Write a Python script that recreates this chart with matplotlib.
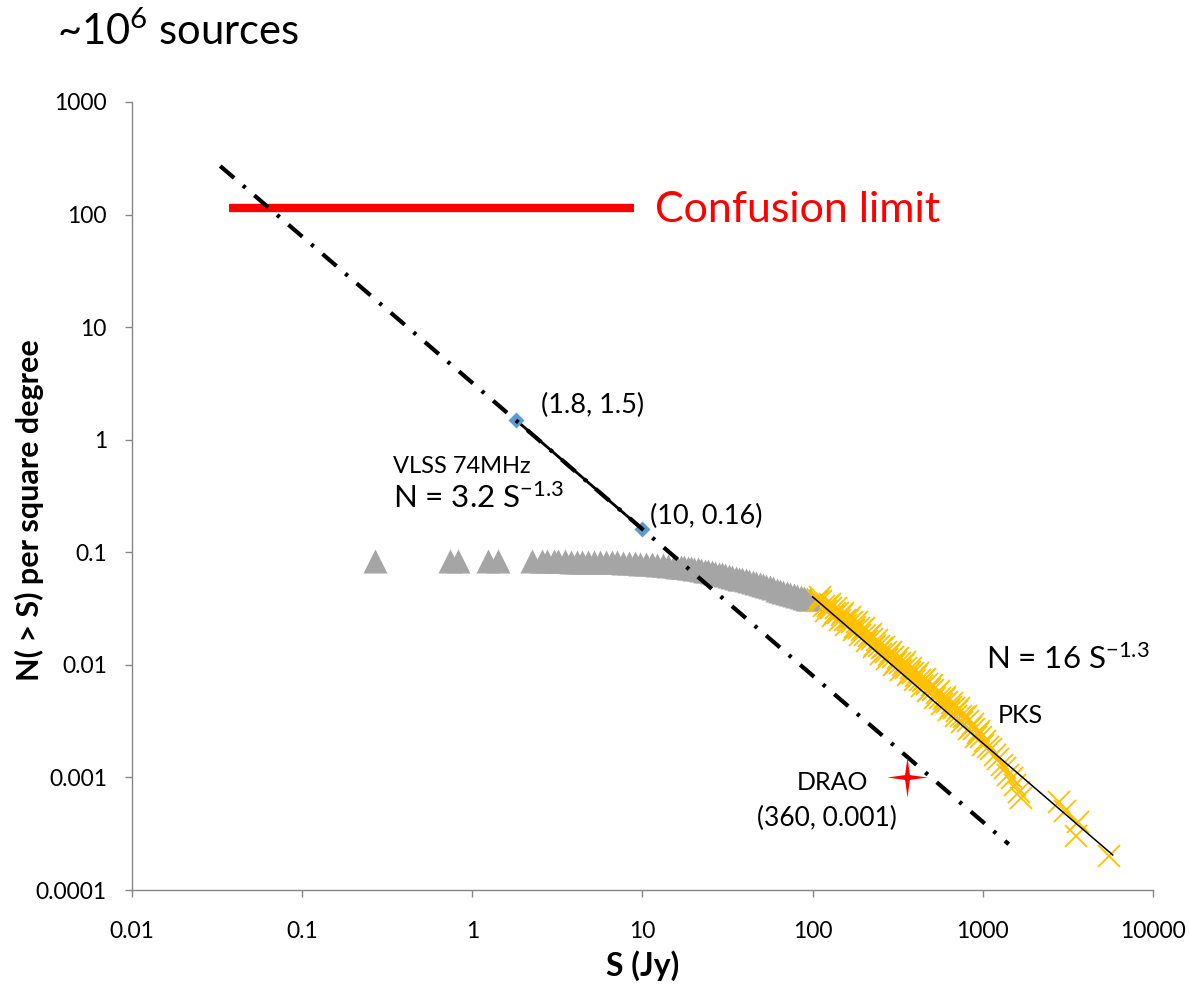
import matplotlib
matplotlib.use("Agg")
import matplotlib.pyplot as plt
from matplotlib.path import Path
from matplotlib.ticker import FixedLocator, FixedFormatter
import numpy as np

plt.rcParams['font.family'] = ['Lato', 'DejaVu Sans']
plt.rcParams['mathtext.fontset'] = 'custom'
plt.rcParams['mathtext.rm'] = 'Lato'
plt.rcParams['mathtext.it'] = 'Lato:italic'
plt.rcParams['mathtext.bf'] = 'Lato:bold'

# ---- data ----
x_ticks = [0.01, 0.1, 1, 10, 100, 1000, 10000]
x_tick_labels = ['0.01', '0.1', '1', '10', '100', '1000', '10000']
y_ticks = [0.0001, 0.001, 0.01, 0.1, 1, 10, 100, 1000]
y_tick_labels = ['0.0001', '0.001', '0.01', '0.1', '1', '10', '100', '1000']

# cumulative counts, low-frequency catalogue (grey triangles)
grey_s = [0.268, 0.743, 0.828, 1.24, 1.42, 2.25, 2.58, 2.76,
          3.0, 3.2, 3.5, 3.8, 4.1, 4.4, 4.8, 5.2, 5.6, 6.1, 6.6, 7.1, 7.7,
          8.3, 9.0, 9.7, 10.5, 11.3, 12.2, 13.2, 14.2, 15.3, 16.0, 16.8,
          17.6, 18.4, 19.3, 20.2, 21.2, 22.2, 23.3, 24.4, 25.5, 26.7, 28.0,
          29.3, 30.7, 32.2, 33.7, 35.3, 37.0, 38.7, 40.6, 42.5, 44.5, 46.6,
          48.8, 51.1, 53.5, 56.0, 58.7, 61.5, 64.4, 67.4, 70.6, 74.0, 77.5,
          81.1, 85.0, 89.0, 93.0, 97.0]
grey_n = [0.0835, 0.0835, 0.0835, 0.0835, 0.0835, 0.0833, 0.0833, 0.0833,
          0.0832, 0.0831, 0.0830, 0.0828, 0.0828, 0.0826, 0.0824, 0.0824,
          0.0822, 0.0818, 0.0817, 0.0813, 0.0811, 0.0807, 0.0800, 0.0794,
          0.0787, 0.0780, 0.0772, 0.0764, 0.0757, 0.0750, 0.0745, 0.0739,
          0.0733, 0.0727, 0.0720, 0.0713, 0.0704, 0.0695, 0.0685, 0.0676,
          0.0666, 0.0656, 0.0646, 0.0636, 0.0626, 0.0615, 0.0605, 0.0594,
          0.0584, 0.0574, 0.0563, 0.0553, 0.0542, 0.0532, 0.0521, 0.0511,
          0.0500, 0.0489, 0.0478, 0.0467, 0.0456, 0.0446, 0.0436, 0.0426,
          0.0417, 0.0408, 0.0400, 0.0393, 0.0387, 0.0381]

# cumulative counts, PKS catalogue (yellow crosses)
pks_s = [107, 110, 112, 117, 120, 123, 126, 129, 132, 135, 138, 141, 145,
         148, 151, 155, 158, 162, 166, 170, 174, 178, 182, 186, 190, 195,
         200, 204, 209, 214, 219, 224, 229, 234, 240, 245, 251, 257, 263,
         269, 275, 282, 288, 295, 302, 309, 316, 324, 331, 339, 347, 355,
         363, 372, 380, 389, 398, 407, 417, 427, 437, 447, 457, 468, 479,
         490, 501, 513, 525, 537, 550, 562, 575, 589, 603, 617, 631, 646,
         661, 676, 692, 708, 724, 741, 758, 776, 794, 813, 832, 851, 871,
         891, 912, 933, 955, 977, 1000, 1023, 1072, 1122, 1175, 1230, 1288,
         1349, 1413, 1479, 1549, 1622, 1675,
         2800, 3050, 3620, 3520, 5500]
pks_n = [0.0373, 0.0400, 0.0368, 0.0334, 0.0299, 0.0330, 0.0349, 0.0318,
         0.0272, 0.0289, 0.0318, 0.0290, 0.0248, 0.0275, 0.0289, 0.0250,
         0.0226, 0.0252, 0.0264, 0.0240, 0.0205, 0.0216, 0.0239, 0.0214,
         0.0185, 0.0203, 0.0212, 0.0183, 0.0163, 0.0180, 0.0187, 0.0170,
         0.0144, 0.0151, 0.0165, 0.0148, 0.0126, 0.0140, 0.0145, 0.0131,
         0.0112, 0.0123, 0.0129, 0.0117, 0.0099, 0.0106, 0.0116, 0.0104,
         0.0090, 0.00990, 0.0105, 0.00935, 0.0081, 0.00860, 0.0094,
         0.00845, 0.0073, 0.00800, 0.0085, 0.00730, 0.0065, 0.00715,
         0.0075, 0.00670, 0.0058, 0.00615, 0.0066, 0.00595, 0.0051,
         0.00560, 0.0058, 0.00510, 0.0045, 0.00495, 0.0052, 0.00465,
         0.0040, 0.00425, 0.0046, 0.00412, 0.0035, 0.00390, 0.0041,
         0.00355, 0.0031, 0.00345, 0.0035, 0.00315, 0.0027, 0.00280,
         0.0030, 0.00272, 0.00228, 0.00250, 0.00256, 0.00228, 0.00193,
         0.00210, 0.00186, 0.00178, 0.00158, 0.00147, 0.00128, 0.00121,
         0.00105, 0.00098, 0.00086, 0.00074, 0.00066,
         0.00060, 0.00050, 0.00040, 0.00030, 0.00020]

# VLSS 74 MHz reference points
vlss_s = [1.8, 10]
vlss_n = [1.5, 0.16]

# power-law fits N = A * S**slope
vlss_fit_a, vlss_fit_slope = 3.2, -1.3
vlss_fit_range = [0.033, 1420]
pks_fit_a, pks_fit_slope = 16, -1.3
pks_fit_range = [100, 5800]

# confusion limit
confusion_s = [0.037, 8.9]
confusion_n = [115, 115]

# DRAO point
drao_s, drao_n = 360, 0.001

# ---- figure ----
fig = plt.figure(figsize=(11.9, 9.92), dpi=100)
ax = fig.add_axes([0.1109, 0.1028, 0.8580, 0.7944])
ax.set_xscale('log')
ax.set_yscale('log')
ax.set_xlim(0.01, 10000)
ax.set_ylim(0.0001, 1000)

axis_grey = '#868686'
for side in ('top', 'right'):
    ax.spines[side].set_visible(False)
for side in ('left', 'bottom'):
    ax.spines[side].set_color(axis_grey)
    ax.spines[side].set_linewidth(1.0)

ax.xaxis.set_major_locator(FixedLocator(x_ticks))
ax.xaxis.set_major_formatter(FixedFormatter(x_tick_labels))
ax.yaxis.set_major_locator(FixedLocator(y_ticks))
ax.yaxis.set_major_formatter(FixedFormatter(y_tick_labels))
ax.xaxis.set_minor_locator(FixedLocator([]))
ax.yaxis.set_minor_locator(FixedLocator([]))
ax.tick_params(axis='both', which='major', direction='out', length=5,
               width=1.0, color=axis_grey, labelsize=16.5, labelcolor='black')
ax.tick_params(axis='y', pad=13)
ax.tick_params(axis='x', pad=17)

# catalogue points
ax.plot(grey_s, grey_n, linestyle='none', marker='^', ms=17,
        color='#A5A5A5', mec='none', zorder=2)
ax.plot(pks_s, pks_n, linestyle='none', marker='x', ms=16, mew=1.3,
        color='#FFC000', zorder=3)

# fits
fs = np.array(vlss_fit_range)
ax.plot(fs, vlss_fit_a * fs ** vlss_fit_slope, color='black', lw=3.0,
        linestyle=(0, (4.4, 2.8, 0.8, 2.8)), dash_capstyle='butt', zorder=6)
ps = np.array(pks_fit_range)
ax.plot(ps, pks_fit_a * ps ** pks_fit_slope, color='black', lw=1.1, zorder=6)

ax.plot(vlss_s, vlss_n, color='black', lw=2.0, zorder=4)
ax.plot(vlss_s, vlss_n, linestyle='none', marker='D', ms=8,
        color='#5B9BD5', mec='none', zorder=5)

# confusion limit
ax.plot(confusion_s, confusion_n, color='#FF0000', lw=6, solid_capstyle='butt',
        zorder=5)

# DRAO four-point star
r_in = 0.17
star_verts = []
for k in range(8):
    ang = np.pi / 2 + k * np.pi / 4
    r = 1.0 if k % 2 == 0 else r_in
    star_verts.append((r * np.cos(ang), r * np.sin(ang)))
star_verts.append(star_verts[0])
star = Path(star_verts, closed=True)
ax.plot([drao_s], [drao_n], linestyle='none', marker=star, ms=29,
        color='#FF0000', mec='none', zorder=7)

# annotations
ax.text(11.9, 110, 'Confusion limit', color='#FF0000', fontsize=31,
        va='center', ha='left')
ax.text(2.55, 2.03, '(1.8, 1.5)', fontsize=19.5, va='center', ha='left')
ax.text(11.1, 0.209, '(10, 0.16)', fontsize=19.5, va='center', ha='left')
ax.text(0.343, 0.58, 'VLSS 74MHz', fontsize=17, va='center', ha='left')
ax.text(0.343, 0.308, r'N = 3.2 S$^{-1.3}$', fontsize=22.5, va='center', ha='left')
ax.text(1042, 0.0114, r'N = 16 S$^{-1.3}$', fontsize=22.5, va='center', ha='left')
ax.text(1225, 0.00356, 'PKS', fontsize=18, va='center', ha='left')
ax.text(213, 9.03e-4, 'DRAO', fontsize=18, va='center', ha='right')
ax.text(121, 4.33e-4, '(360, 0.001)', fontsize=19, va='center', ha='center')

fig.text(0.048, 0.968, r'~10$^{6}$ sources', fontsize=30, va='center', ha='left')
fig.text(0.540, 0.027, 'S (Jy)', fontsize=23, fontweight='bold',
         va='center', ha='center')
fig.text(0.025, 0.486, 'N( > S) per square degree', fontsize=22,
         fontweight='bold', rotation=90, va='center', ha='center')

fig.savefig('out.png', dpi=100)
